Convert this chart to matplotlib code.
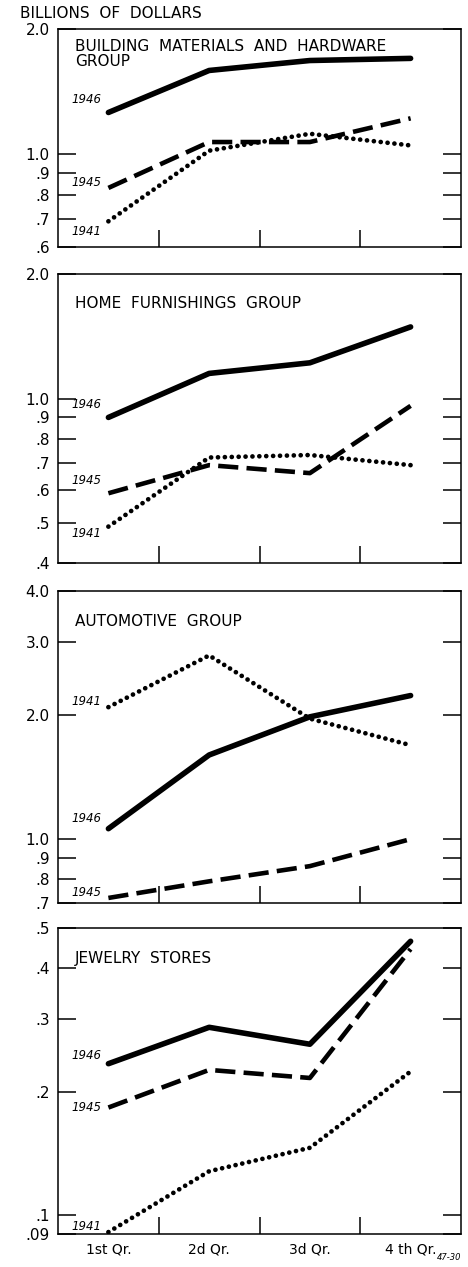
import matplotlib
matplotlib.use("Agg")
import matplotlib.pyplot as plt

# quarterly sales, billions of dollars
quarters = ["1st Qr.", "2d Qr.", "3d Qr.", "4 th Qr."]
years = ["1946", "1945", "1941"]

building_1946 = [1.26, 1.59, 1.68, 1.70]
building_1945 = [0.83, 1.07, 1.07, 1.22]
building_1941 = [0.69, 1.02, 1.12, 1.05]

home_1946 = [0.90, 1.15, 1.22, 1.49]
home_1945 = [0.59, 0.69, 0.66, 0.96]
home_1941 = [0.49, 0.72, 0.73, 0.69]

auto_1946 = [1.06, 1.60, 1.98, 2.23]
auto_1945 = [0.72, 0.79, 0.86, 1.00]
auto_1941 = [2.09, 2.79, 1.96, 1.69]

jewelry_1946 = [0.234, 0.287, 0.261, 0.465]
jewelry_1945 = [0.183, 0.226, 0.216, 0.445]
jewelry_1941 = [0.091, 0.128, 0.146, 0.224]

titles = ["BUILDING  MATERIALS  AND  HARDWARE\nGROUP",
          "HOME  FURNISHINGS  GROUP",
          "AUTOMOTIVE  GROUP",
          "JEWELRY  STORES"]

tick_values = [
    [0.6, 0.7, 0.8, 0.9, 1.0, 2.0],
    [0.4, 0.5, 0.6, 0.7, 0.8, 0.9, 1.0, 2.0],
    [0.7, 0.8, 0.9, 1.0, 2.0, 3.0, 4.0],
    [0.09, 0.1, 0.2, 0.3, 0.4, 0.5],
]
tick_labels = [
    [".6", ".7", ".8", ".9", "1.0", "2.0"],
    [".4", ".5", ".6", ".7", ".8", ".9", "1.0", "2.0"],
    [".7", ".8", ".9", "1.0", "2.0", "3.0", "4.0"],
    [".09", ".1", ".2", ".3", ".4", ".5"],
]

series = [
    [building_1946, building_1945, building_1941],
    [home_1946, home_1945, home_1941],
    [auto_1946, auto_1945, auto_1941],
    [jewelry_1946, jewelry_1945, jewelry_1941],
]

# layout: axes rectangles in figure fractions, year label offsets (points)
rects = [
    [0.124, 0.8054, 0.861, 0.1717],
    [0.124, 0.5556, 0.861, 0.2281],
    [0.124, 0.2873, 0.861, 0.2463],
    [0.124, 0.0260, 0.861, 0.2413],
]
label_dy = [[9, 4, -7], [9, 9, -5], [7, 4, 4], [6, 0, 4]]

styles = [
    dict(linestyle="-", linewidth=4.0, solid_capstyle="round"),
    dict(linestyle=(0, (4.4, 1.8)), linewidth=3.3),
    dict(linestyle=(0, (0.01, 1.45)), linewidth=3.4, dash_capstyle="round"),
]

x = [0.5, 1.5, 2.5, 3.5]

fig = plt.figure(figsize=(4.68, 12.67), dpi=100)

for i in range(4):
    ax = fig.add_axes(rects[i])
    ax.set_yscale("log")
    lo, hi = tick_values[i][0], tick_values[i][-1]

    for vals, st, yr, dy in zip(series[i], styles, years, label_dy[i]):
        ax.plot(x, vals, color="black", **st)
        ax.annotate(yr, xy=(0.43, vals[0]), xytext=(0, dy),
                    textcoords="offset points", ha="right", va="center",
                    fontsize=8.5, style="italic")

    ax.set_ylim(lo, hi)
    ax.set_xlim(0, 4)
    ax.set_yticks(tick_values[i], tick_labels[i])
    ax.set_yticks([], minor=True)
    ax.tick_params(axis="y", which="major", direction="in", length=13,
                   width=1.1, right=True, labelsize=11, pad=6)
    ax.set_xticks([1, 2, 3], ["", "", ""])
    ax.tick_params(axis="x", which="major", direction="in", length=12, width=1.1)
    if i == 3:
        ax.set_xticks(x, quarters, minor=True)
        ax.tick_params(axis="x", which="minor", length=0, labelsize=10, pad=6)
    for sp in ax.spines.values():
        sp.set_linewidth(1.1)

    ax.text(0.042, 0.955 if i == 0 else 0.925, titles[i], transform=ax.transAxes,
            ha="left", va="top", fontsize=11, linespacing=1.05)

fig.text(0.043, 0.989, "BILLIONS  OF  DOLLARS", ha="left", va="center", fontsize=11)
fig.text(0.985, 0.004, "47-30", ha="right", va="bottom", fontsize=6, style="italic")

fig.savefig("out.png", dpi=100)
